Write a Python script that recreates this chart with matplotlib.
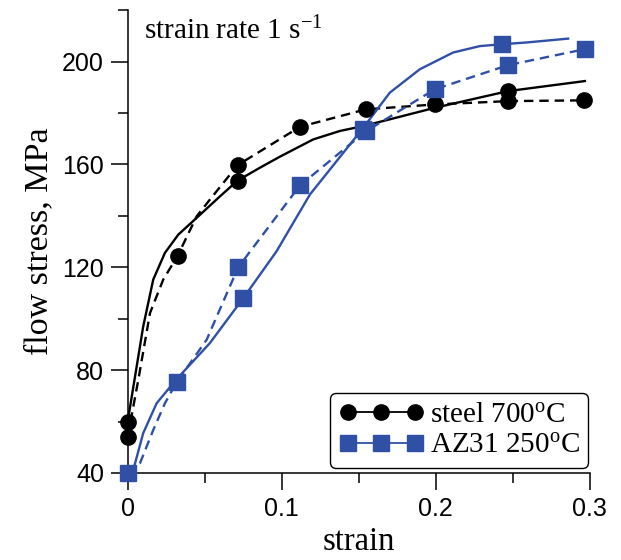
import matplotlib
matplotlib.use("Agg")
import matplotlib.pyplot as plt
from matplotlib.lines import Line2D
from matplotlib.ticker import MultipleLocator, FuncFormatter

plt.rcParams['mathtext.fontset'] = 'custom'
plt.rcParams['mathtext.rm'] = 'Liberation Serif'
plt.rcParams['mathtext.it'] = 'Liberation Serif:italic'

BLUE = '#2f50a4'

# steel 700C -- solid curve (markers at a few points)
steel_solid_x = [0.0, 0.0101, 0.0166, 0.0242, 0.0329, 0.0448, 0.060, 0.0714, 0.0859,
                 0.0989, 0.1205, 0.1379, 0.153, 0.1747, 0.1995, 0.2288, 0.2472, 0.297]
steel_solid_y = [60.0, 97.0, 115.2, 125.6, 132.7, 139.2, 147.6, 153.7, 158.7,
                 163.0, 169.7, 173.0, 174.9, 178.2, 182.0, 186.0, 188.5, 192.4]
steel_solid_mx = [0.0, 0.0714, 0.2472]
steel_solid_my = [60.0, 153.7, 188.5]

# steel 700C -- dashed curve with markers
steel_dash_x = [0.0, 0.0069, 0.0145, 0.0231, 0.0325, 0.0448, 0.0534, 0.0714, 0.1119,
                0.1547, 0.1995, 0.2472, 0.2965]
steel_dash_y = [54.1, 76.2, 102.2, 115.2, 124.5, 139.8, 146.3, 159.7, 174.6,
                181.4, 183.3, 184.6, 184.9]
steel_dash_mx = [0.0, 0.0325, 0.0714, 0.1119, 0.1547, 0.1995, 0.2472, 0.2965]
steel_dash_my = [54.1, 124.5, 159.7, 174.6, 181.4, 183.3, 184.6, 184.9]

# AZ31 250C -- solid curve
az_solid_x = [0.0, 0.004, 0.0101, 0.0188, 0.0318, 0.0534, 0.0751, 0.0967, 0.1184,
              0.1526, 0.1703, 0.1898, 0.2114, 0.2288, 0.2429, 0.259, 0.2861]
az_solid_y = [40.0, 42.0, 55.5, 67.1, 76.5, 90.5, 108.0, 126.2, 148.3,
              173.9, 187.9, 197.0, 203.5, 206.0, 206.7, 207.4, 208.9]
az_solid_mx = [0.0, 0.0751, 0.1526, 0.2429]
az_solid_my = [40.0, 108.0, 173.9, 206.7]

# AZ31 250C -- dashed curve with markers
az_dash_x = [0.0, 0.008, 0.0166, 0.0242, 0.0318, 0.0513, 0.0718, 0.1119, 0.1546,
             0.1995, 0.2472, 0.297]
az_dash_y = [40.0, 43.8, 56.7, 67.1, 75.3, 91.8, 120.0, 151.8, 172.8,
             189.2, 198.6, 204.8]
az_dash_mx = [0.0318, 0.0718, 0.1119, 0.1546, 0.1995, 0.2472, 0.297]
az_dash_my = [75.3, 120.0, 151.8, 172.8, 189.2, 198.6, 204.8]

legend_labels = [r'steel 700$^{\mathrm{o}}$C', r'AZ31 250$^{\mathrm{o}}$C']

fig = plt.figure(figsize=(6.21, 5.6), dpi=100)
ax = fig.add_axes([0.2056, 0.1554, 0.7437, 0.8266])

lw = 1.7
# curves
ax.plot(steel_solid_x, steel_solid_y, '-', color='black', lw=lw, clip_on=False)
ax.plot(steel_dash_x, steel_dash_y, '--', color='black', lw=lw, dashes=(4, 2.5), clip_on=False)
ax.plot(az_solid_x, az_solid_y, '-', color=BLUE, lw=lw, clip_on=False)
ax.plot(az_dash_x, az_dash_y, '--', color=BLUE, lw=lw, dashes=(4, 2.5), clip_on=False)

# markers
ax.plot(steel_solid_mx, steel_solid_my, 'o', color='black', ms=11, clip_on=False, zorder=3)
ax.plot(steel_dash_mx, steel_dash_my, 'o', color='black', ms=11, clip_on=False, zorder=3)
ax.plot(az_solid_mx, az_solid_my, 's', color=BLUE, ms=12, clip_on=False, zorder=4)
ax.plot(az_dash_mx, az_dash_my, 's', color=BLUE, ms=12, clip_on=False, zorder=4)

ax.set_xlim(0, 0.3)
ax.set_ylim(40, 220)
ax.xaxis.set_major_locator(MultipleLocator(0.1))
ax.xaxis.set_minor_locator(MultipleLocator(0.05))
ax.yaxis.set_major_locator(MultipleLocator(40))
ax.yaxis.set_minor_locator(MultipleLocator(20))
ax.xaxis.set_major_formatter(FuncFormatter(lambda v, p: '0' if abs(v) < 1e-9 else f'{v:g}'))
ax.yaxis.set_major_formatter(FuncFormatter(lambda v, p: '' if v > 210 else f'{v:g}'))

for s in ['top', 'right']:
    ax.spines[s].set_visible(False)
for s in ['left', 'bottom']:
    ax.spines[s].set_linewidth(1.1)

ax.tick_params(which='major', direction='out', length=12, width=1.1, pad=5,
               labelsize=18, labelfontfamily='Liberation Sans')
ax.tick_params(which='minor', direction='out', length=7, width=1.1)

ax.set_xlabel('strain', fontsize=23.5, family='Liberation Serif', labelpad=4)
ax.set_ylabel('flow stress, MPa', fontsize=24.5, family='Liberation Serif', labelpad=6)

ax.text(0.035, 0.985, r'strain rate 1 s$^{\mathrm{-1}}$', transform=ax.transAxes,
        fontsize=21, family='Liberation Serif', va='top', ha='left')

handles = [
    Line2D([], [], color='black', lw=1.3, marker='o', ms=11),
    Line2D([], [], color=BLUE, lw=1.3, marker='s', ms=11),
]
leg = ax.legend(handles, legend_labels, loc='lower right', bbox_to_anchor=(0.997, 0.011),
                numpoints=3, handlelength=2.9, handletextpad=0.2, fancybox=True,
                framealpha=1, edgecolor='black', borderpad=0.3, labelspacing=0.15,
                borderaxespad=0.0, prop={'family': 'Liberation Serif', 'size': 21})
leg.get_frame().set_linewidth(1.0)

fig.savefig('out.png', dpi=100)
